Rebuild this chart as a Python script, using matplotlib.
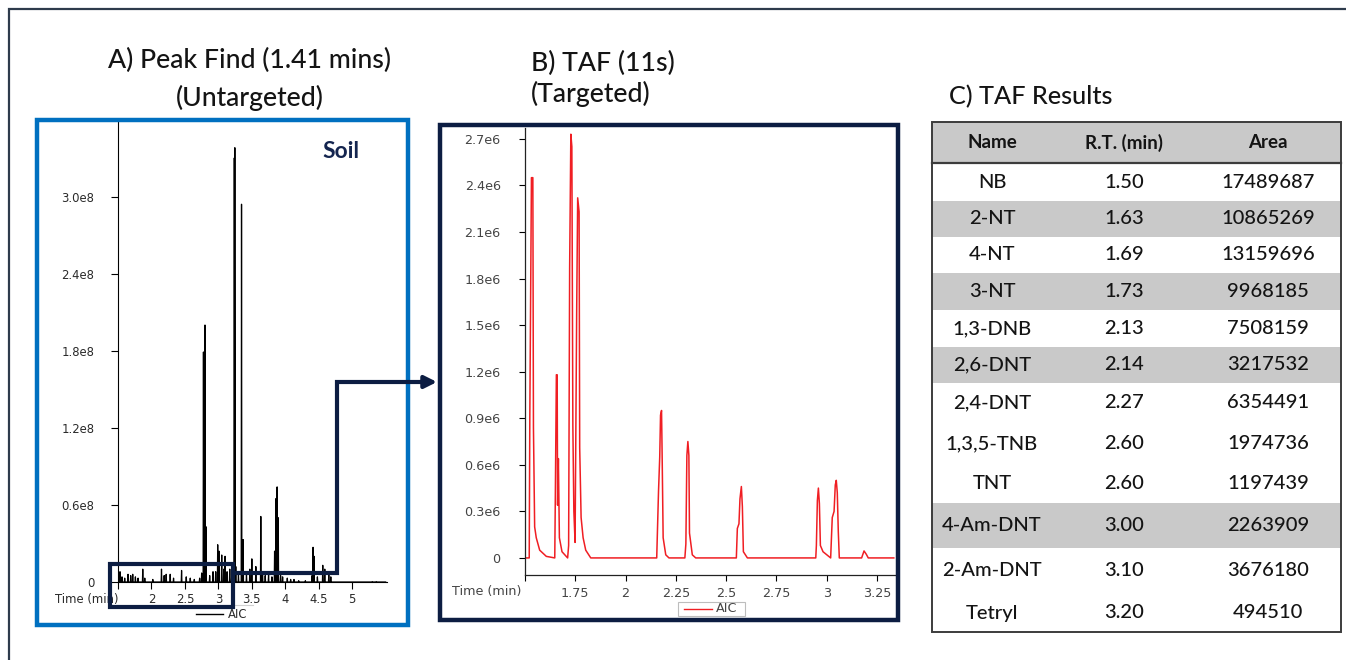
import matplotlib.pyplot as plt
from matplotlib.patches import Rectangle

W, H = 1346, 660

# ---- panel A: untargeted peak find (retention time in min, AIC counts) ----
a_peak_time = [1.53, 1.56, 1.60, 1.65, 1.69, 1.72, 1.76, 1.80, 1.87, 1.90, 2.02,
               2.15, 2.19, 2.22, 2.28, 2.33, 2.45, 2.52, 2.58, 2.64, 2.72, 2.75,
               2.777, 2.80, 2.815, 2.87, 2.92, 2.96, 2.99, 3.01, 3.05, 3.08, 3.10,
               3.13, 3.17, 3.20, 3.238, 3.246, 3.26, 3.30, 3.346, 3.37, 3.42, 3.47,
               3.50, 3.56, 3.634, 3.66, 3.70, 3.75, 3.80, 3.84, 3.862, 3.878, 3.895,
               3.93, 3.96, 4.03, 4.08, 4.13, 4.20, 4.30, 4.40, 4.415, 4.43, 4.48,
               4.56, 4.59, 4.65, 4.68, 5.30, 5.36]
a_peak_height = [0.08e8, 0.04e8, 0.03e8, 0.06e8, 0.05e8, 0.06e8, 0.04e8, 0.03e8, 0.10e8, 0.03e8, 0.02e8,
                 0.10e8, 0.05e8, 0.06e8, 0.06e8, 0.03e8, 0.09e8, 0.04e8, 0.03e8, 0.02e8, 0.03e8, 0.07e8,
                 1.79e8, 2.00e8, 0.43e8, 0.05e8, 0.08e8, 0.08e8, 0.29e8, 0.24e8, 0.21e8, 0.10e8, 0.20e8,
                 0.08e8, 0.10e8, 0.06e8, 3.30e8, 3.38e8, 0.12e8, 0.06e8, 2.94e8, 0.33e8, 0.06e8, 0.10e8,
                 0.18e8, 0.12e8, 0.51e8, 0.08e8, 0.05e8, 0.06e8, 0.04e8, 0.24e8, 0.65e8, 0.74e8, 0.50e8,
                 0.05e8, 0.04e8, 0.03e8, 0.02e8, 0.02e8, 0.01e8, 0.01e8, 0.05e8, 0.27e8, 0.20e8, 0.04e8,
                 0.13e8, 0.10e8, 0.06e8, 0.04e8, 0.003e8, 0.003e8]
a_run_start, a_run_end = 1.5, 5.5

a_xticks = [1.5, 2, 2.5, 3, 3.5, 4, 4.5, 5]
a_xticklabels = ['', '2', '2.5', '3', '3.5', '4', '4.5', '5']
a_yticks = [0, 0.6e8, 1.2e8, 1.8e8, 2.4e8, 3.0e8]
a_yticklabels = ['0', '0.6e8', '1.2e8', '1.8e8', '2.4e8', '3.0e8']

# ---- panel B: targeted TAF trace ----
b_time = [1.500, 1.521, 1.524, 1.532, 1.539, 1.542, 1.548, 1.556, 1.573, 1.606,
          1.648, 1.651, 1.656, 1.660, 1.662, 1.666, 1.671, 1.684, 1.712,
          1.717, 1.722, 1.728, 1.733, 1.738, 1.743, 1.749, 1.757, 1.762, 1.769,
          1.772, 1.779, 1.789, 1.802, 1.827,
          2.155, 2.164, 2.170, 2.174, 2.179, 2.182, 2.187, 2.200, 2.216,
          2.295, 2.300, 2.305, 2.310, 2.315, 2.318, 2.332, 2.349,
          2.551, 2.556, 2.564, 2.569, 2.576, 2.581, 2.586, 2.606,
          2.946, 2.949, 2.954, 2.959, 2.964, 2.969, 2.982, 3.020,
          3.028, 3.037, 3.043, 3.048, 3.053, 3.058, 3.063,
          3.174, 3.186, 3.197, 3.207, 3.334]
b_aic = [0, 0, 0.92e6, 2.45e6, 2.45e6, 0.84e6, 0.20e6, 0.13e6, 0.05e6, 0.01e6,
         0, 0.42e6, 1.18e6, 1.18e6, 0.34e6, 0.64e6, 0.13e6, 0.04e6, 0,
         0.08e6, 1.87e6, 2.73e6, 2.65e6, 0.85e6, 0.30e6, 0.10e6, 1.59e6, 2.32e6, 2.23e6,
         0.71e6, 0.26e6, 0.13e6, 0.05e6, 0,
         0, 0.43e6, 0.65e6, 0.92e6, 0.95e6, 0.66e6, 0.13e6, 0.02e6, 0,
         0, 0.09e6, 0.66e6, 0.75e6, 0.66e6, 0.16e6, 0.02e6, 0,
         0, 0.19e6, 0.22e6, 0.38e6, 0.46e6, 0.33e6, 0.04e6, 0,
         0, 0.08e6, 0.37e6, 0.45e6, 0.35e6, 0.08e6, 0.04e6, 0,
         0.26e6, 0.30e6, 0.47e6, 0.50e6, 0.42e6, 0.17e6, 0,
         0, 0.045e6, 0.024e6, 0, 0]

b_xticks = [1.5, 1.75, 2, 2.25, 2.5, 2.75, 3, 3.25]
b_xticklabels = ['', '1.75', '2', '2.25', '2.5', '2.75', '3', '3.25']
b_yticks = [0, 0.3e6, 0.6e6, 0.9e6, 1.2e6, 1.5e6, 1.8e6, 2.1e6, 2.4e6, 2.7e6]
b_yticklabels = ['0', '0.3e6', '0.6e6', '0.9e6', '1.2e6', '1.5e6', '1.8e6', '2.1e6', '2.4e6', '2.7e6']

# ---- panel C: TAF results table ----
compound_names = ['NB', '2-NT', '4-NT', '3-NT', '1,3-DNB', '2,6-DNT', '2,4-DNT',
                  '1,3,5-TNB', 'TNT', '4-Am-DNT', '2-Am-DNT', 'Tetryl']
retention_times = ['1.50', '1.63', '1.69', '1.73', '2.13', '2.14', '2.27',
                   '2.60', '2.60', '3.00', '3.10', '3.20']
peak_areas = ['17489687', '10865269', '13159696', '9968185', '7508159', '3217532',
              '6354491', '1974736', '1197439', '2263909', '3676180', '494510']
table_headers = ['Name', 'R.T. (min)', 'Area']

BLUE = '#0070c0'
NAVY = '#0c1d42'
GREY_ROW = '#c9c9c9'
TXT = '#141414'
TITLE_FONT = 'Lato'
TW = 500   # a touch heavier than regular, closer to the Calibri look

fig = plt.figure(figsize=(W / 100, H / 100), dpi=100)
renderer = fig.canvas.get_renderer()


def px_axes(left, top, right, bottom):
    return fig.add_axes([left / W, 1 - bottom / H, (right - left) / W, (bottom - top) / H])


def fit_size(text, target_px, **kw):
    # scale a font so that the string is target_px wide
    t = fig.text(0, 0, text, fontsize=10, **kw)
    w = t.get_window_extent(renderer=renderer).width
    t.remove()
    return 10 * target_px / w


def spikes(times, heights, start, end, half=0.005):
    xs, ys = [start], [0]
    for t, h in sorted(zip(times, heights)):
        xs += [t - half, t, t + half]
        ys += [0, h, 0]
    xs.append(end)
    ys.append(0)
    return xs, ys


# Panel A chart
a_tick_size = fit_size('3.0e8', 33)
axA = px_axes(118, 122, 387, 582)
ax_x, ax_y = spikes(a_peak_time, a_peak_height, a_run_start, a_run_end)
axA.plot(ax_x, ax_y, color='black', lw=0.9)
axA.set_xlim(1.5, 5.52)
axA.set_ylim(0, 3.58e8)
axA.set_xticks(a_xticks)
axA.set_xticklabels(a_xticklabels)
axA.set_yticks(a_yticks)
axA.set_yticklabels(a_yticklabels)
for s in ['top', 'right']:
    axA.spines[s].set_visible(False)
for s in ['left', 'bottom']:
    axA.spines[s].set_linewidth(0.8)
axA.tick_params(axis='y', length=5, width=0.8, pad=12, labelsize=a_tick_size, labelcolor='#2a2a2a')
axA.tick_params(axis='x', length=5, width=0.8, pad=3, labelsize=a_tick_size, labelcolor='#2a2a2a')
axA.patch.set_alpha(0)

# Panel B chart
b_tick_size = fit_size('2.7e6', 36)
axB = px_axes(525, 128, 895, 575)
axB.plot(b_time, b_aic, color='#f01e23', lw=1.1)
axB.set_xlim(1.5, 3.34)
axB.set_ylim(-0.11e6, 2.77e6)
axB.set_xticks(b_xticks)
axB.set_xticklabels(b_xticklabels)
axB.set_yticks(b_yticks)
axB.set_yticklabels(b_yticklabels)
for s in ['top', 'right']:
    axB.spines[s].set_visible(False)
for s in ['left', 'bottom']:
    axB.spines[s].set_linewidth(0.9)
    axB.spines[s].set_color('#222222')
axB.tick_params(axis='y', length=4.5, width=0.8, pad=13, labelsize=b_tick_size, labelcolor='#444444')
axB.tick_params(axis='x', length=4.5, width=0.8, pad=4, labelsize=b_tick_size, labelcolor='#444444')
axB.patch.set_alpha(0)

# overlay in pixel coordinates for frames, titles, arrow and table
ov = fig.add_axes([0, 0, 1, 1])
ov.set_xlim(0, W)
ov.set_ylim(H, 0)
ov.axis('off')
ov.patch.set_alpha(0)

# outer frame (top and left edge)
ov.plot([9, 9, W], [H, 9, 9], color='#2e3b4c', lw=1.6, solid_joinstyle='miter')

# panel frames
ov.add_patch(Rectangle((37, 120), 371, 505, fill=False, ec=BLUE, lw=3.2))
ov.add_patch(Rectangle((440, 125), 458, 495, fill=False, ec=NAVY, lw=3.2))

# axis labels and legends
ov.text(55, 600, 'Time (min)', fontsize=a_tick_size, color='#2a2a2a', ha='left', va='center')
ov.text(521, 592, 'Time (min)', fontsize=b_tick_size, color='#444444', ha='right', va='center')
ov.plot([195, 253], [605, 605], color='#d0d0d0', lw=0.8)
ov.plot([196, 223], [614, 614], color='black', lw=1.0)
ov.text(228, 614, 'AIC', fontsize=a_tick_size, color='#2a2a2a', ha='left', va='center')
ov.add_patch(Rectangle((678, 602), 67, 14, fill=False, ec='#bdbdbd', lw=0.8))
ov.plot([684, 712], [609, 609], color='#f01e23', lw=1.0)
ov.text(716, 609, 'AIC', fontsize=b_tick_size, color='#444444', ha='left', va='center')

# zoom box and connector arrow
ov.add_patch(Rectangle((110, 564), 123, 43, fill=False, ec=NAVY, lw=3.0, zorder=5))
ov.plot([233, 336.5, 336.5, 425], [573, 573, 382, 382], color=NAVY, lw=3.0,
        solid_joinstyle='miter', zorder=5)
ov.annotate('', xy=(437, 382), xytext=(420, 382),
            arrowprops=dict(arrowstyle='-|>', color=NAVY, lw=3.0, mutation_scale=18,
                            shrinkA=0, shrinkB=0), zorder=5)

# Soil label
soil_size = fit_size('Soil', 37, family=TITLE_FONT, weight='bold')
ov.text(341, 151, 'Soil', fontsize=soil_size, family=TITLE_FONT, weight='bold',
        color='#14254f', ha='center', va='center')

# titles
title_size = fit_size('A) Peak Find (1.41 mins)', 284, family=TITLE_FONT, weight=TW)
ov.text(250, 60, 'A) Peak Find (1.41 mins)', fontsize=title_size, family=TITLE_FONT,
        weight=TW, color=TXT, ha='center', va='center')
ov.text(250, 98, '(Untargeted)', fontsize=title_size, family=TITLE_FONT,
        weight=TW, color=TXT, ha='center', va='center')
ov.text(531, 63, 'B) TAF (11s)', fontsize=title_size, family=TITLE_FONT,
        weight=TW, color=TXT, ha='left', va='center')
ov.text(531, 94, '(Targeted)', fontsize=title_size, family=TITLE_FONT,
        weight=TW, color=TXT, ha='left', va='center')
c_size = fit_size('C) TAF Results', 164, family=TITLE_FONT, weight=TW)
ov.text(949, 97, 'C) TAF Results', fontsize=c_size, family=TITLE_FONT,
        weight=TW, color=TXT, ha='left', va='center')

# table
tab_left, tab_right = 932, 1341
head_top, head_bottom = 122, 163
row_edges = [163, 201, 237, 273, 310, 347, 383, 423, 464, 503, 548, 594, 632]
grey_rows = [1, 3, 5, 9]
col_x = [992, 1124, 1268]

ov.add_patch(Rectangle((tab_left, head_top), tab_right - tab_left, head_bottom - head_top,
                       fc=GREY_ROW, ec='none'))
for i in grey_rows:
    ov.add_patch(Rectangle((tab_left, row_edges[i]), tab_right - tab_left,
                           row_edges[i + 1] - row_edges[i], fc=GREY_ROW, ec='none'))
ov.add_patch(Rectangle((tab_left, head_top), tab_right - tab_left, row_edges[-1] - head_top,
                       fill=False, ec='#3c3c3c', lw=1.4))
ov.plot([tab_left, tab_right], [head_bottom, head_bottom], color='#3c3c3c', lw=1.6)

head_size = fit_size('R.T. (min)', 78, family=TITLE_FONT, weight='bold')
row_size = fit_size('17489687', 93, family=TITLE_FONT, weight=TW)
for x, lab in zip(col_x, table_headers):
    ov.text(x, (head_top + head_bottom) / 2, lab, fontsize=head_size, family=TITLE_FONT,
            weight='bold', color=TXT, ha='center', va='center')
for i, (nm, r, ar) in enumerate(zip(compound_names, retention_times, peak_areas)):
    yc = (row_edges[i] + row_edges[i + 1]) / 2
    for x, val in zip(col_x, [nm, r, ar]):
        ov.text(x, yc, val, fontsize=row_size, family=TITLE_FONT, weight=TW, color=TXT,
                ha='center', va='center')

fig.savefig('out.png', dpi=100)
